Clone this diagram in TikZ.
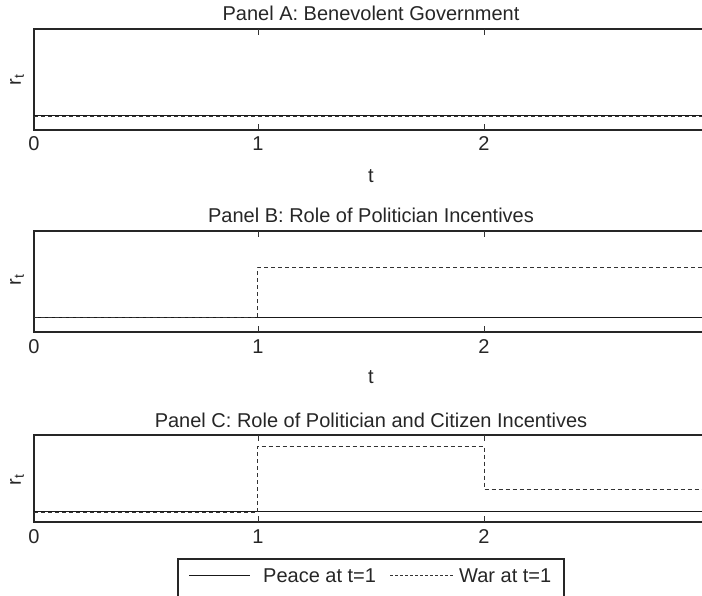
\documentclass[tikz,border=0pt]{standalone}
\usepackage{fontspec}
\setmainfont{Liberation Sans}
\begin{document}
\begin{tikzpicture}[x=1pt,y=-1pt,
  txt/.style={font=\fontsize{20}{24}\selectfont, text=black!85, inner sep=0pt},
  frame/.style={draw=black!85, line width=1.6pt},
  tickmark/.style={draw=black!80, line width=0.8pt},
  peace/.style={draw=black!90, line width=1pt},
  war/.style={draw=black!80, line width=1pt, dash pattern=on 4pt off 3pt}]
\useasboundingbox (0,0) rectangle (702,596);
\clip (0,0) rectangle (702,596);

% ---------- Panel frames, ticks, tick labels ----------
\foreach \nm/\top/\bot in {A/29/130, B/231/332, C/435/522}{
  \draw[frame] (34,\top) rectangle (720,\bot);
  \foreach \xx in {258,484}{
    \draw[tickmark] (\xx,\top) -- (\xx,\top+6);
    \draw[tickmark] (\xx,\bot) -- (\xx,\bot-6);
  }
  \node[txt, anchor=base] (zero\nm) at (34,\bot+21) {0};
  \node[txt, anchor=base] (one\nm) at (258,\bot+21) {1};
  \node[txt, anchor=base] (two\nm) at (484,\bot+21) {2};
}

% ---------- Titles ----------
\node[txt, anchor=base] (titleA) at (371,21) {Panel A: Benevolent Government};
\node[txt, anchor=base] (titleB) at (371,223) {Panel B: Role of Politician Incentives};
\node[txt, anchor=base] (titleC) at (371,427) {Panel C: Role of Politician and Citizen Incentives};

% ---------- y labels ----------
\node[txt, rotate=90] (rA) at (17,80) {r\textsubscript{t}};
\node[txt, rotate=90] (rB) at (17,280) {r\textsubscript{t}};
\node[txt, rotate=90] (rC) at (17,480) {r\textsubscript{t}};

% ---------- x labels ----------
\node[txt, anchor=base] (tA) at (371,183) {t};
\node[txt, anchor=base] (tB) at (371,383) {t};

% ---------- Panel A data ----------
\draw[peace] (34,116) -- (720,116);
\draw[war] (34,116.5) -- (720,116.5);

% ---------- Panel B data ----------
\draw[peace] (34,318) -- (720,318);
\draw[war] (34,318) -- (257,318) -- (257,268) -- (720,268);

% ---------- Panel C data ----------
\draw[peace] (34,511) -- (720,511);
\draw[war] (34,512.5) -- (257,512.5) -- (257,446) -- (484,446) -- (484,489) -- (720,489);

% ---------- Legend ----------
\draw[frame, line width=1.4pt] (178,559) rectangle (564,600);
\coordinate (ps) at (189,575);
\coordinate (pe) at (250,575);
\draw[peace] (ps) -- (pe);
\node[txt, anchor=base west] (peaceTxt) at (263,582) {Peace at t=1};
\coordinate (ws) at (390,575);
\coordinate (we) at (453,575);
\draw[war, dash pattern=on 3pt off 2pt] (ws) -- (we);
\node[txt, anchor=base west] (warTxt) at (459,582) {War at t=1};
\end{tikzpicture}
\end{document}
